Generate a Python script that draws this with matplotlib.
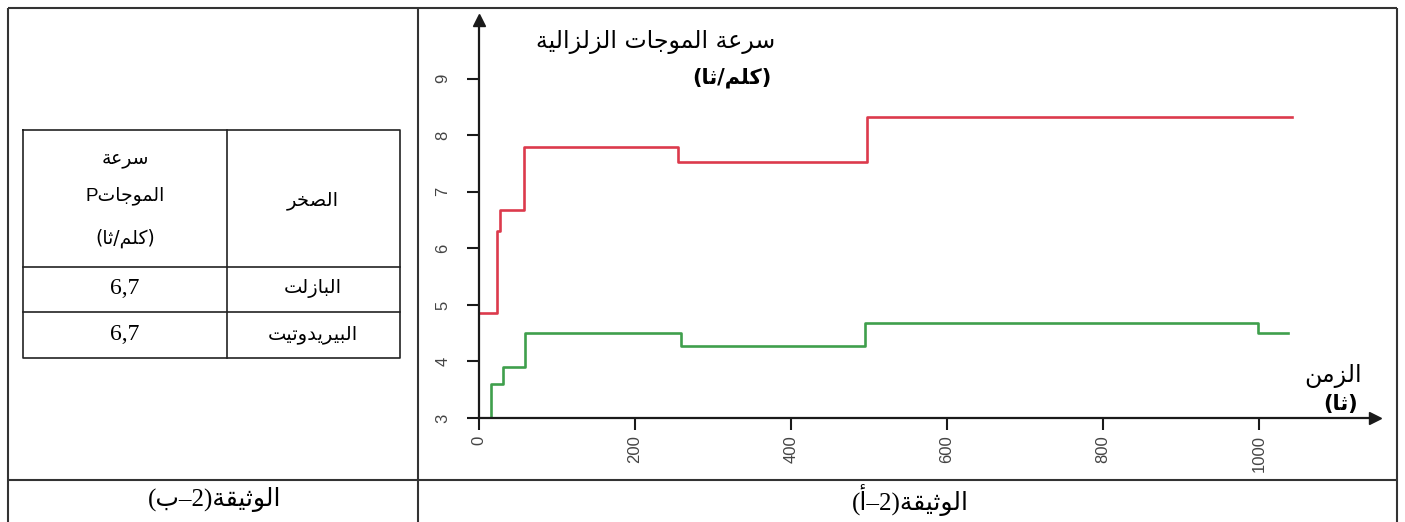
import matplotlib
matplotlib.use("Agg")
import matplotlib.pyplot as plt
import numpy as np

# P and S wave velocity vs time (km/s)
p_time = [0, 23, 27, 58, 255, 497, 1042]
p_speed = [4.85, 6.3, 6.68, 7.8, 7.53, 8.33, 8.33]
s_time = [15, 15, 31, 59, 259, 495, 999, 1038]
s_speed = [3.0, 3.6, 3.9, 4.5, 4.27, 4.68, 4.5, 4.5]

x_ticks = [0, 200, 400, 600, 800, 1000]
y_ticks = [3, 4, 5, 6, 7, 8, 9]

# table of rocks
rock_names = ["البازلت", "البيريدوتيت"]
rock_p_speed = ["6,7", "6,7"]

# Arabic presentation forms: isolated code point and whether the letter joins forward
FORMS = {
    "ا": (0xFE8D, False), "أ": (0xFE83, False), "ب": (0xFE8F, True),
    "ة": (0xFE93, False), "ت": (0xFE95, True), "ث": (0xFE99, True),
    "ج": (0xFE9D, True), "خ": (0xFEA5, True), "د": (0xFEA9, False),
    "ر": (0xFEAD, False), "ز": (0xFEAF, False), "س": (0xFEB1, True),
    "ص": (0xFEB9, True), "ع": (0xFEC9, True), "ق": (0xFED5, True),
    "ك": (0xFED9, True), "ل": (0xFEDD, True), "م": (0xFEE1, True),
    "ن": (0xFEE5, True), "و": (0xFEED, False), "ي": (0xFEF1, True),
}
MIRROR = {"(": ")", ")": "("}


def ar(text):
    # shape letters and lay them out right to left
    out = []
    for i, ch in enumerate(text):
        if ch not in FORMS:
            out.append(MIRROR.get(ch, ch))
            continue
        base, dual = FORMS[ch]
        prev = text[i - 1] if i > 0 else ""
        nxt = text[i + 1] if i + 1 < len(text) else ""
        join_prev = prev in FORMS and FORMS[prev][1]
        join_next = dual and nxt in FORMS
        if join_prev and join_next:
            code = base + 3
        elif join_prev:
            code = base + 1
        elif join_next:
            code = base + 2
        else:
            code = base
        out.append(chr(code))
    return "".join(reversed(out))


SANS = ["Liberation Sans", "DejaVu Sans"]
SERIF = ["Liberation Serif", "DejaVu Sans"]
AR = ["DejaVu Sans"]

fig = plt.figure(figsize=(14.05, 5.22), dpi=100)

# page frame, table and captions drawn in pixel-like coordinates
bg = fig.add_axes([0, 0, 1, 1], zorder=0)
bg.set_xlim(0, 1405)
bg.set_ylim(522, 0)
bg.axis("off")

frame = dict(color="#333333", lw=1.5, solid_capstyle="butt")
bg.plot([8, 1397], [8, 8], **frame)
bg.plot([8, 8], [8, 530], **frame)
bg.plot([1397, 1397], [8, 530], **frame)
bg.plot([418, 418], [8, 530], **frame)
bg.plot([8, 1397], [480, 480], **frame)

cell = dict(color="#222222", lw=1.2)
bg.plot([23, 400, 400, 23, 23], [130, 130, 358, 358, 130], **cell)
bg.plot([227, 227], [130, 358], **cell)
bg.plot([23, 400], [267, 267], **cell)
bg.plot([23, 400], [312, 312], **cell)

bg.text(125, 158, ar("سرعة"), ha="center", va="center", fontsize=13.5, family=AR)
bg.text(125, 196, "P" + ar("الموجات"), ha="center", va="center", fontsize=13.5, family=SANS)
bg.text(125, 238, ar("(كلم/ثا)"), ha="center", va="center", fontsize=13.5, family=AR)
bg.text(313, 200, ar("الصخر"), ha="center", va="center", fontsize=14, family=AR)
for i, (name, val) in enumerate(zip(rock_names, rock_p_speed)):
    yc = 289 + i * 46
    bg.text(313, yc, ar(name), ha="center", va="center", fontsize=14, family=AR)
    bg.text(125, yc, val, ha="center", va="center", fontsize=17, family=SERIF)

bg.text(215, 500, ar("الوثيقة(2–ب)"), ha="center", va="center", fontsize=18, family=SERIF)
bg.text(910, 500, ar("الوثيقة(2–أ)"), ha="center", va="center", fontsize=18, family=SERIF)

# chart of seismic wave velocity
ax = fig.add_axes([479 / 1405, 104 / 522, 896 / 1405, 398 / 522], zorder=1)
ax.patch.set_alpha(0)
ax.set_xlim(0, 1149)
ax.set_ylim(3, 10.04)

ax.step(p_time, p_speed, where="post", color="#dc3a4c", lw=1.9)
ax.step(s_time, s_speed, where="post", color="#3f9f4c", lw=1.9)

for side in ["top", "right"]:
    ax.spines[side].set_visible(False)
for side in ["left", "bottom"]:
    ax.spines[side].set_linewidth(1.6)
    ax.spines[side].set_color("#1a1a1a")

ax.plot(1, 0, ">", color="#1a1a1a", ms=9, transform=ax.transAxes, clip_on=False)
ax.plot(0, 1, "^", color="#1a1a1a", ms=9, transform=ax.transAxes, clip_on=False)

ax.set_xticks(x_ticks)
ax.set_yticks(y_ticks)
ax.tick_params(axis="both", length=8.5, width=1.5, color="#1a1a1a",
               labelsize=12, labelcolor="#444444")
ax.tick_params(axis="x", pad=4, labelrotation=90)
ax.tick_params(axis="y", pad=12, labelrotation=90)
for lab in ax.get_xticklabels() + ax.get_yticklabels():
    lab.set_family(SANS)
for lab in ax.get_yticklabels():
    lab.set_va("center")

# axis titles
bg.text(775, 42, ar("سرعة الموجات الزلزالية"), ha="right", va="center", fontsize=17, family=AR)
bg.text(772, 78, ar("(كلم/ثا)"), ha="right", va="center", fontsize=15, family=AR, weight="bold")
bg.text(1362, 376, ar("الزمن"), ha="right", va="center", fontsize=17, family=AR)
bg.text(1358, 404, ar("(ثا)"), ha="right", va="center", fontsize=15, family=AR, weight="bold")

fig.savefig("out.png", dpi=100)
